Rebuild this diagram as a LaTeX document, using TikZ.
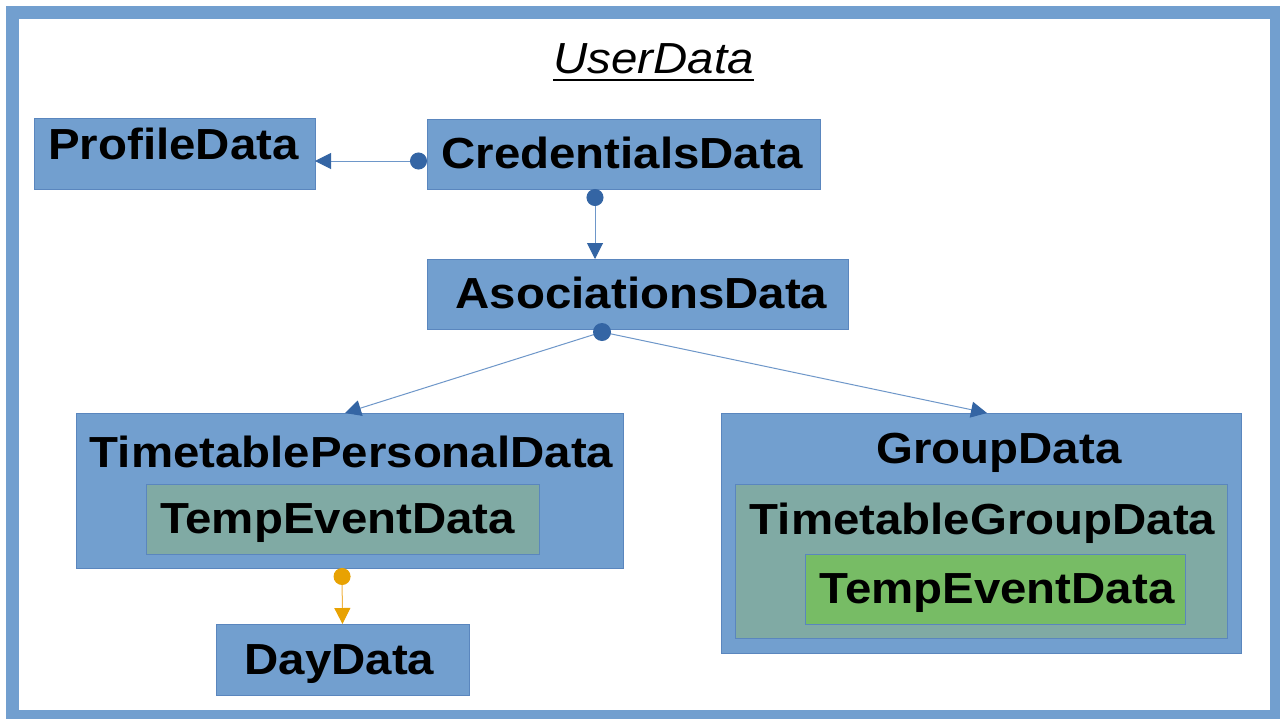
\documentclass[tikz,border=0pt]{standalone}
\usepackage{fontspec}
\setmainfont{Liberation Sans}[FakeStretch=1.09]
\usetikzlibrary{arrows.meta}

\definecolor{boxblue}{HTML}{729FCF}
\definecolor{edgeblue}{HTML}{5A86BE}
\definecolor{darkblue}{HTML}{3465A4}
\definecolor{lineblue}{HTML}{6E97C9}
\definecolor{teal}{HTML}{80AAA4}
\definecolor{leaf}{HTML}{77BC65}
\definecolor{amber}{HTML}{E8A202}
\definecolor{lightamber}{HTML}{F0B547}

\tikzset{
  databox/.style={rectangle, draw=edgeblue, line width=0.8pt, inner sep=0pt, outer sep=0pt},
  bluebox/.style={databox, fill=boxblue},
  tealbox/.style={databox, fill=teal},
  greenbox/.style={databox, fill=leaf},
  label/.style={anchor=base, inner sep=0pt, font=\fontsize{43.5}{50}\selectfont\bfseries},
  title/.style={anchor=base, inner sep=0pt, font=\fontsize{43.5}{50}\selectfont\itshape},
  link/.style={draw=lineblue, line width=1pt},
  dotstart/.style={{Circle[length=17pt, color=darkblue]}-{Triangle[length=16pt, width=16pt, color=darkblue]}},
  tiponly/.style={-{Triangle[length=16pt, width=16pt, color=darkblue]}},
  amberlink/.style={draw=lightamber, line width=1pt,
    {Circle[length=17pt, color=amber]}-{Triangle[length=16pt, width=16pt, color=amber]}},
}

\begin{document}
\begin{tikzpicture}[x=1pt, y=-1pt]
\useasboundingbox (0,0) rectangle (1280,718);
\fill[white] (0,0) rectangle (1280,718);

% outer frame of the user data container
\draw[boxblue, line width=13pt] (12,12.5) rectangle (1276.5,716);

% title
\node[title] (ttl) at (653.5,73) {UserData};
\draw[line width=2.2pt] ([yshift=-7pt]ttl.base west) -- ([yshift=-7pt]ttl.base east);

% boxes
\node[bluebox, minimum width=281pt, minimum height=71pt] (profile) at (174.5,153.5) {};
\node[bluebox, minimum width=393pt, minimum height=70pt] (cred) at (623.5,154) {};
\node[bluebox, minimum width=421pt, minimum height=70pt] (asoc) at (637.5,294) {};
\node[bluebox, minimum width=547pt, minimum height=155pt] (tpd) at (349.5,490.5) {};
\node[tealbox, minimum width=393pt, minimum height=70pt] (tempL) at (342.5,519) {};
\node[bluebox, minimum width=253pt, minimum height=71pt] (day) at (342.5,659.5) {};
\node[bluebox, minimum width=520pt, minimum height=240pt] (group) at (981,533) {};
\node[tealbox, minimum width=492pt, minimum height=154pt] (tgd) at (981,561) {};
\node[greenbox, minimum width=380pt, minimum height=70pt] (tempR) at (995,589) {};

% labels
\node[label] (profileT) at (173.5,159) {ProfileData};
\node[label] (credT) at (622,168) {CredentialsData};
\node[label] (asocT) at (641.5,308) {AsociationsData};
\node[label] (tpdT) at (351.5,467) {TimetablePersonalData};
\node[label] (tempLT) at (337.5,533) {TempEventData};
\node[label] (dayT) at (339.5,674) {DayData};
\node[label] (groupT) at (999,463) {GroupData};
\node[label] (tgdT) at (982.5,534) {TimetableGroupData};
\node[label] (tempRT) at (997,603) {TempEventData};

% connector end points
\coordinate (credL) at ([yshift=-7pt]cred.west);
\coordinate (credB) at ([xshift=-28.5pt]cred.south);
\coordinate (tpdB) at ([xshift=-7.5pt]tpd.south);
\coordinate (hubc) at (602,332);

% connectors
\draw[link, dotstart] (credL) -- (profile.east |- credL);
\draw[link, dotstart] (credB) -- (credB |- asoc.north);

\draw[link, tiponly] (hubc) -- ([xshift=-4.5pt]tpd.north);
\draw[link, tiponly] (hubc) -- ([xshift=6pt]group.north);
\node[circle, fill=darkblue, inner sep=0pt, minimum size=18pt] (hub) at (hubc) {};

\draw[amberlink] (tpdB) -- (day.north);
\end{tikzpicture}
\end{document}
